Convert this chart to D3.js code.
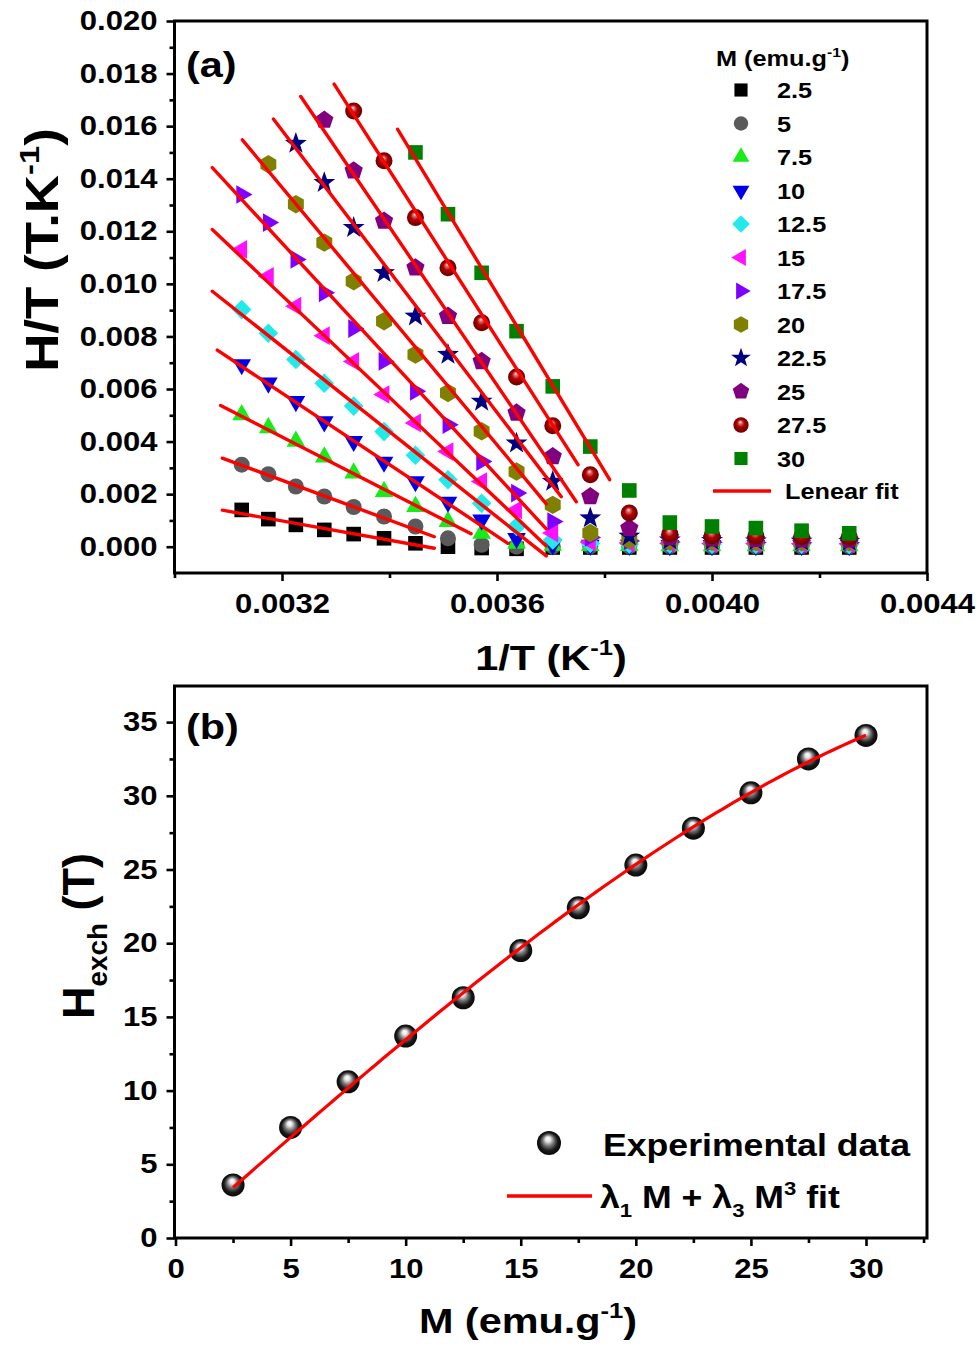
<!DOCTYPE html>
<html><head><meta charset="utf-8">
<script src="https://cdn.jsdelivr.net/npm/d3@7"></script>
<style>
body{margin:0;background:#fff}
svg{display:block}
text{font-family:"Liberation Sans",Arial,Helvetica,sans-serif;font-weight:bold;fill:#000}
</style>
</head><body>
<svg id="c" width="980" height="1349"></svg>
<script>
// ---------- DATA : panel (a) ----------
const temps = [320,315,310,305,300,295,290,285,280,275,270,265,260,255,250,245,240,235];
const seriesLabels = ["2.5","5","7.5","10","12.5","15","17.5","20","22.5","25","27.5","30"];
const htM2_5  = [0.00140,0.00105,0.00083,0.00064,0.00048,0.00032,0.00013,0.00000,-0.00005,-0.00008,-0.00003,-0.00003,-0.00003,-0.00003,-0.00003,-0.00003,-0.00003,-0.00003];
const htM5    = [0.00312,0.00276,0.00229,0.00191,0.00151,0.00115,0.00077,0.00032,0.00007,0.00000,0.00001,0.00001,0.00001,0.00001,0.00001,0.00001,0.00001,0.00001];
const htM7_5  = [0.00502,0.00452,0.00401,0.00341,0.00280,0.00210,0.00153,0.00096,0.00051,0.00013,0.00005,0.00004,0.00004,0.00003,0.00003,0.00003,0.00003,0.00003];
const htM10   = [0.00693,0.00623,0.00553,0.00476,0.00401,0.00322,0.00248,0.00170,0.00102,0.00032,0.00008,0.00006,0.00006,0.00005,0.00005,0.00005,0.00005,0.00005];
const htM12_5 = [0.00902,0.00812,0.00712,0.00622,0.00535,0.00438,0.00348,0.00255,0.00165,0.00077,0.00026,0.00012,0.00010,0.00010,0.00009,0.00009,0.00009,0.00008];
const htM15   = [0.01131,0.01029,0.00915,0.00803,0.00705,0.00579,0.00471,0.00362,0.00248,0.00140,0.00052,0.00018,0.00014,0.00013,0.00012,0.00012,0.00011,0.00011];
const htM17_5 = [0.01340,0.01233,0.01093,0.00966,0.00830,0.00705,0.00591,0.00464,0.00324,0.00204,0.00096,0.00035,0.00022,0.00018,0.00017,0.00016,0.00015,0.00015];
const htM20   = [null,0.01455,0.01303,0.01157,0.01010,0.00858,0.00731,0.00585,0.00439,0.00286,0.00159,0.00052,0.00026,0.00020,0.00019,0.00018,0.00017,0.00017];
const htM22_5 = [null,null,0.01534,0.01385,0.01214,0.01042,0.00877,0.00731,0.00553,0.00394,0.00248,0.00109,0.00040,0.00025,0.00023,0.00022,0.00021,0.00020];
const htM25   = [null,null,null,0.01623,0.01430,0.01239,0.01061,0.00877,0.00705,0.00509,0.00343,0.00191,0.00070,0.00035,0.00030,0.00028,0.00027,0.00026];
const htM27_5 = [null,null,null,null,0.01658,0.01468,0.01252,0.01061,0.00852,0.00646,0.00460,0.00274,0.00128,0.00048,0.00042,0.00040,0.00038,0.00036];
const htM30   = [null,null,null,null,null,null,0.01500,0.01265,0.01042,0.00820,0.00610,0.00381,0.00214,0.00092,0.00077,0.00071,0.00061,0.00051];
// linear fit segments (start / end, in data units)
const fitX0 = [0.0030889,0.0030889,0.0030858,0.0030796,0.0030703,0.0030703,0.0030703,0.0031262,0.0031840,0.0032349,0.0032970,0.0034152];
const fitY0 = [0.00139,0.00337,0.00537,0.00748,0.00972,0.01207,0.01442,0.01548,0.01627,0.01713,0.01760,0.01588];
const fitX1 = [0.0034834,0.0034834,0.0035518,0.0036202,0.0036916,0.0036916,0.0036916,0.0036916,0.0037196,0.0037475,0.0037507,0.0038096];
const fitY1 = [-0.00006,0.00038,0.00049,0.00013,-0.00035,0.00003,0.00068,0.00163,0.00190,0.00171,0.00312,0.00255];
const xTicksA = [0.0032,0.0036,0.0040,0.0044];
const xMinorA = [0.0030,0.0034,0.0038,0.0042];
const yTicksA = [0,0.002,0.004,0.006,0.008,0.010,0.012,0.014,0.016,0.018,0.020];
const yMinorA = [0.001,0.003,0.005,0.007,0.009,0.011,0.013,0.015,0.017,0.019];

// ---------- DATA : panel (b) ----------
const mValues = [2.5,5,7.5,10,12.5,15,17.5,20,22.5,25,27.5,30];
const hExch   = [3.6,7.5,10.6,13.7,16.3,19.5,22.4,25.3,27.8,30.2,32.5,34.1];
const xTicksB = [0,5,10,15,20,25,30];
const xMinorB = [2.5,7.5,12.5,17.5,22.5,27.5,32.5];
const yTicksB = [0,5,10,15,20,25,30,35];
const yMinorB = [2.5,7.5,12.5,17.5,22.5,27.5,32.5];

// ---------- STYLES ----------
const seriesValues = [htM2_5,htM5,htM7_5,htM10,htM12_5,htM15,htM17_5,htM20,htM22_5,htM25,htM27_5,htM30];
const markerTypes  = ["square","circle","triUp","triDown","diamond","triLeft","triRight","hexagon","star","pentagon","sphere","square"];
const markerColors = ["#000000","#5a5a5a","#18ec18","#0000e8","#22eaea","#ff10ff","#8000ff","#808000","#000080","#800080","url(#gRed)","#008000"];
const SX = 1.15;
const L = 174.5, R = 927;

const svg = d3.select('#c');
const defs = svg.append('defs');
function sphereGrad(id, stops){
  const g = defs.append('radialGradient').attr('id',id).attr('cx','50%').attr('cy','52%').attr('r','55%').attr('fx','45%').attr('fy','30%');
  stops.forEach(s=>g.append('stop').attr('offset',s[0]).attr('stop-color',s[1]));
}
sphereGrad('gRed',[[0,'#ffe6e6'],[0.18,'#e06a6a'],[0.45,'#b00000'],[0.85,'#700000'],[1,'#4a0000']]);
sphereGrad('gBlack',[[0,'#ffffff'],[0.18,'#e8e8e8'],[0.42,'#777'],[0.68,'#1a1a1a'],[1,'#000']]);

function poly(n, r, rot){
  const pts = d3.range(n).map(i=>{const a=(rot+i*360/n-90)*Math.PI/180;return [r*Math.cos(a), r*Math.sin(a)];});
  return 'M'+pts.map(p=>p[0].toFixed(2)+','+p[1].toFixed(2)).join('L')+'Z';
}
function starPath(ro, ri){
  const pts = d3.range(10).map(i=>{const r=i%2?ri:ro;const a=(i*36-90)*Math.PI/180;return [r*Math.cos(a), r*Math.sin(a)];});
  return 'M'+pts.map(p=>p[0].toFixed(2)+','+p[1].toFixed(2)).join('L')+'Z';
}
function circ(r){return `M${r},0A${r},${r} 0 1,1 ${-r},0A${r},${r} 0 1,1 ${r},0Z`;}
function markerPath(t){
  switch(t){
    case 'square': return 'M-7.3,-7.3H7.3V7.3H-7.3Z';
    case 'circle': return circ(8);
    case 'triUp': return poly(3,10.8,0);
    case 'triDown': return poly(3,10.8,180);
    case 'triLeft': return poly(3,10.8,-90);
    case 'triRight': return poly(3,10.8,90);
    case 'diamond': return poly(4,9.8,0);
    case 'hexagon': return poly(6,9.2,0);
    case 'star': return starPath(11.5,4.6);
    case 'pentagon': return poly(5,9.6,0);
    case 'sphere': return circ(8.5);
  }
}

// text helper: parts = strings or {t, sup:true} / {t, sub:true}
function txt(g, x, y, parts, size, opts={}){
  const anchor = opts.anchor||'start', rot = opts.rot||0, sx = opts.sx||SX;
  const t = g.append('text').attr('transform',`translate(${x},${y}) rotate(${rot}) scale(${sx},1)`)
    .attr('font-size',size).attr('text-anchor',anchor);
  let cur = 0;
  parts.forEach(p=>{
    if(typeof p==='string'){ t.append('tspan').attr('dy',-cur).text(p); cur=0; }
    else{
      const shift = p.sup ? -0.42*size : 0.28*size;
      t.append('tspan').attr('dy',shift-cur).attr('font-size',size*0.62).text(p.t);
      cur = shift;
    }
  });
  return t;
}

function styleAxis(g, fs, isLeft, pad){
  g.attr('font-size',null).attr('font-family',null);
  g.select('.domain').remove();
  g.selectAll('.tick line').attr('stroke','#000').attr('stroke-width',2.6);
  g.selectAll('.tick text').attr('font-size',fs).attr('fill','#000')
    .attr('transform',`scale(${SX},1)`);
  if(isLeft) g.selectAll('.tick text').attr('x', -pad/SX);
}

// ================= PANEL (a) =================
const TA = 21, BA = 573;
const xA = d3.scaleLinear().domain([0.0030,0.0044]).range([L,R]);
const yA = d3.scaleLinear().domain([-0.001,0.020]).range([BA,TA]);
const gA = svg.append('g');

// axes
gA.append('g').attr('transform',`translate(0,${BA})`)
  .call(d3.axisBottom(xA).tickValues(xTicksA).tickSize(8).tickPadding(13).tickFormat(d3.format('.4f')))
  .call(g=>styleAxis(g,27,false));
gA.append('g').attr('transform',`translate(0,${BA})`)
  .call(d3.axisBottom(xA).tickValues(xMinorA).tickSize(5).tickFormat(''))
  .call(g=>styleAxis(g,27,false));
gA.append('g').attr('transform',`translate(${L},0)`)
  .call(d3.axisLeft(yA).tickValues(yTicksA).tickSize(8).tickFormat(d3.format('.3f')))
  .call(g=>styleAxis(g,27,true,17));
gA.append('g').attr('transform',`translate(${L},0)`)
  .call(d3.axisLeft(yA).tickValues(yMinorA).tickSize(5).tickFormat(''))
  .call(g=>styleAxis(g,27,true,17));

// markers
seriesValues.forEach((vals,si)=>{
  const pts = temps.map((T,i)=>({x:1/T, y:vals[i]})).filter(d=>d.y!==null);
  gA.append('g').selectAll('path').data(pts).join('path')
    .attr('d',markerPath(markerTypes[si]))
    .attr('transform',d=>`translate(${xA(d.x)},${yA(d.y)})`)
    .attr('fill',markerColors[si]);
});
// fit lines
gA.append('g').selectAll('line').data(fitX0.map((x0,i)=>({x0,y0:fitY0[i],x1:fitX1[i],y1:fitY1[i]}))).join('line')
  .attr('x1',d=>xA(d.x0)).attr('y1',d=>yA(d.y0)).attr('x2',d=>xA(d.x1)).attr('y2',d=>yA(d.y1))
  .attr('stroke','#ff0000').attr('stroke-width',3.4).attr('stroke-linecap','round');

// frame
gA.append('rect').attr('x',L).attr('y',TA).attr('width',R-L).attr('height',BA-TA)
  .attr('fill','none').attr('stroke','#000').attr('stroke-width',3);

// legend (a)
const lgA = gA.append('g');
txt(lgA, 716, 66, ['M (emu.g',{t:'-1',sup:true},')'], 22);
seriesLabels.forEach((lab,i)=>{
  const cy = 90 + i*33.5;
  lgA.append('path').attr('d',markerPath(markerTypes[i])).attr('transform',`translate(741,${cy}) scale(0.9)`).attr('fill',markerColors[i]);
  txt(lgA, 777, cy+8, [lab], 22);
});
lgA.append('line').attr('x1',713).attr('x2',771).attr('y1',491).attr('y2',491).attr('stroke','#ff0000').attr('stroke-width',3.5);
txt(lgA, 785, 499, ['Lenear fit'], 22);

// labels (a)
txt(gA, 186, 77, ['(a)'], 36);
txt(gA, 551, 670, ['1/T (K',{t:'-1',sup:true},')'], 36, {anchor:'middle'});
txt(gA, 58, 250, ['H/T (T.K',{t:'-1',sup:true},')'], 46, {anchor:'middle', rot:-90});

// ================= PANEL (b) =================
const TB = 686, BB = 1238;
const xB = d3.scaleLinear().domain([0,32.65]).range([L+1,R]);
const yB = d3.scaleLinear().domain([0,37.45]).range([BB,TB]);
const gB = svg.append('g');

gB.append('g').attr('transform',`translate(0,${BB})`)
  .call(d3.axisBottom(xB).tickValues(xTicksB).tickSize(8).tickPadding(13).tickFormat(d3.format('d')))
  .call(g=>styleAxis(g,27,false));
gB.append('g').attr('transform',`translate(0,${BB})`)
  .call(d3.axisBottom(xB).tickValues(xMinorB).tickSize(5).tickFormat(''))
  .call(g=>styleAxis(g,27,false));
gB.append('g').attr('transform',`translate(${L},0)`)
  .call(d3.axisLeft(yB).tickValues(yTicksB).tickSize(8).tickFormat(d3.format('d')))
  .call(g=>styleAxis(g,27,true,17));
gB.append('g').attr('transform',`translate(${L},0)`)
  .call(d3.axisLeft(yB).tickValues(yMinorB).tickSize(5).tickFormat(''))
  .call(g=>styleAxis(g,27,true,17));

// data spheres
gB.append('g').selectAll('circle').data(mValues.map((m,i)=>({m,h:hExch[i]}))).join('circle')
  .attr('cx',d=>xB(d.m)).attr('cy',d=>yB(d.h)).attr('r',11.5).attr('fill','url(#gBlack)');

// least-squares fit H = l1*M + l3*M^3 from the data
let s2=0,s4=0,s6=0,sy1=0,sy3=0;
mValues.forEach((m,i)=>{const h=hExch[i];s2+=m*m;s4+=m**4;s6+=m**6;sy1+=h*m;sy3+=h*m**3;});
const det = s2*s6 - s4*s4;
const l1 = (sy1*s6 - s4*sy3)/det, l3 = (s2*sy3 - s4*sy1)/det;
const curveM = d3.range(2.5, 30.001, 0.25);
gB.append('path').datum(curveM)
  .attr('d', d3.line().x(m=>xB(m)).y(m=>yB(l1*m + l3*m*m*m)))
  .attr('fill','none').attr('stroke','#ff0000').attr('stroke-width',3.2);

gB.append('rect').attr('x',L).attr('y',TB).attr('width',R-L).attr('height',BB-TB)
  .attr('fill','none').attr('stroke','#000').attr('stroke-width',3);

// legend (b)
gB.append('circle').attr('cx',549).attr('cy',1143).attr('r',12).attr('fill','url(#gBlack)');
txt(gB, 603, 1156, ['Experimental data'], 31);
gB.append('line').attr('x1',507).attr('x2',592).attr('y1',1196).attr('y2',1196).attr('stroke','#ff0000').attr('stroke-width',3.5);
txt(gB, 600, 1208, ['λ',{t:'1',sub:true},' M + λ',{t:'3',sub:true},' M',{t:'3',sup:true},' fit'], 31);

// labels (b)
txt(gB, 186, 739, ['(b)'], 36);
txt(gB, 528, 1333, ['M (emu.g',{t:'-1',sup:true},')'], 36, {anchor:'middle'});
txt(gB, 94, 936, ['H',{t:'exch',sub:true},' (T)'], 45, {anchor:'middle', rot:-90, sx:1.0});
</script>
</body></html>
